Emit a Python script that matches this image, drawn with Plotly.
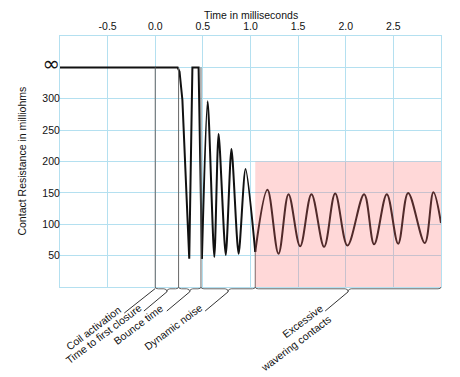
import plotly.graph_objects as go

# ---- data ----
closure_t = [-1.0, 0.235, 0.255, 0.268, 0.285, 0.357, 0.39, 0.455, 0.49]
closure_r = [350, 350, 343, 325, 298, 45, 350, 350, 45]

ring_t = [0.49, 0.55, 0.62, 0.665, 0.74, 0.80, 0.875, 0.948, 1.05]
ring_r = [45, 296, 48, 244, 51, 220, 53, 188, 56]

waver_t = [1.05, 1.178, 1.294, 1.399, 1.521, 1.640, 1.773, 1.889, 2.018,
           2.193, 2.298, 2.431, 2.550, 2.655, 2.830, 2.920, 3.0]
waver_r = [56, 155, 53, 148, 65, 148, 64, 149, 66,
           148, 68, 148, 69, 150, 70, 151, 102]

# phase boundaries (ms) and resistance where marker line meets curve
phase_t = [0.0, 0.245, 0.48, 1.05]
phase_top = [350, 350, 350, 56]
phase_labels = ["Time to first closure", "Bounce time", "Dynamic noise",
                "Excessive<br>wavering contacts"]
start_label = "Coil activation"
noise_limit = 200
t_end = 3.0

x_title = "Time in milliseconds"
y_title = "Contact Resistance in milliohms"
x_ticks = [-0.5, 0.0, 0.5, 1.0, 1.5, 2.0, 2.5]
x_ticktext = ["-0.5", "0.0", "0.5", "1.0", "1.5", "2.0", "2.5"]
y_ticks = [50, 100, 150, 200, 250, 300, 350]
y_ticktext = ["50", "100", "150", "200", "250", "300",
              "<span style='font-family:DejaVu Sans;font-size:21px'>∞</span>"]

# ---- layout geometry (page has an 8px body margin) ----
OFF = 8
W, H = 460 - OFF, 377 - OFF
ML, MR, MT = 60 - OFF, 18.5, 36 - OFF
PW, PH = 381.5, 250.7
MB = H - MT - PH
XR = (-1.0, 3.0)
ux = (XR[1] - XR[0]) / PW   # data units per px (x)
uy = 1.0 / PH               # paper units per px (y)

FONT = "Liberation Sans, Arial, Helvetica, sans-serif"
GRID = "#b4e0f0"
MARK = "#666666"

fig = go.Figure()
fig.add_trace(go.Scatter(x=closure_t, y=closure_r, mode="lines",
                         line=dict(color="#111111", width=2), hoverinfo="skip"))
fig.add_trace(go.Scatter(x=ring_t, y=ring_r, mode="lines",
                         line=dict(color="#111111", width=2, shape="spline", smoothing=0.7),
                         hoverinfo="skip"))
fig.add_trace(go.Scatter(x=waver_t, y=waver_r, mode="lines",
                         line=dict(color="#111111", width=2, shape="spline", smoothing=1),
                         hoverinfo="skip"))

shapes = []
for t, top in zip(phase_t, phase_top):
    shapes.append(dict(type="line", xref="x", yref="y", x0=t, x1=t, y0=0, y1=top,
                       line=dict(color=MARK, width=1), layer="above"))
shapes.append(dict(type="rect", xref="x", yref="y", x0=phase_t[-1], x1=t_end,
                   y0=0, y1=noise_limit, fillcolor="rgba(255,110,110,0.27)",
                   line=dict(width=0), layer="above"))

# brackets
seg_ends = phase_t + [t_end]
yb = -1.8 * uy
yn = -4.8 * uy
c = 3 * ux
for a, b in zip(seg_ends[:-1], seg_ends[1:]):
    m = (a + b) / 2
    p = (f"M {a},0 Q {a},{yb} {a+c},{yb} L {m-c},{yb} Q {m},{yb} {m},{yn} "
         f"Q {m},{yb} {m+c},{yb} L {b-c},{yb} Q {b},{yb} {b},0")
    shapes.append(dict(type="path", xref="x", yref="paper", path=p,
                       line=dict(color=MARK, width=1)))

annotations = []
def label(x0, y0px, dxpx, dypx, text, xs, ys):
    x1 = x0 + dxpx * ux
    y1 = dypx * uy
    shapes.append(dict(type="line", xref="x", yref="paper", x0=x0, y0=y0px * uy,
                       x1=x1, y1=y1, line=dict(color="#333333", width=1)))
    annotations.append(dict(x=x1, y=y1, xref="x", yref="paper", text=text,
                            showarrow=False, textangle=-37, xanchor="right",
                            yanchor="top", align="right", xshift=xs, yshift=ys,
                            font=dict(family=FONT, size=10.5, color="#111")))

label(phase_t[0], -1.5, -31, -26, start_label, 2, 12)
for i, (a, b, lab) in enumerate(zip(seg_ends[:-1], seg_ends[1:], phase_labels)):
    multi = "<br>" in lab
    label((a + b) / 2, -4.8, -23, -24, lab, 11 if multi else 2, 12)

# axis titles
annotations.append(dict(x=0.5, y=1 + 21 * uy, xref="paper", yref="paper",
                        text=x_title, showarrow=False, xanchor="center",
                        yanchor="middle", font=dict(family=FONT, size=10.5, color="#111")))
annotations.append(dict(x=-39 / PW, y=0.5, xref="paper", yref="paper",
                        text=y_title, showarrow=False, textangle=-90,
                        xanchor="center", yanchor="middle",
                        font=dict(family=FONT, size=10.5, color="#111")))

fig.update_layout(
    width=W, height=H, margin=dict(l=ML, r=MR, t=MT, b=MB),
    paper_bgcolor="white", plot_bgcolor="white", showlegend=False,
    font=dict(family=FONT, size=10.5, color="#111"),
    shapes=shapes, annotations=annotations,
    xaxis=dict(range=list(XR), side="top", tickvals=x_ticks, ticktext=x_ticktext,
               showgrid=True, gridcolor=GRID, gridwidth=1, zeroline=False,
               showline=True, mirror=True, linecolor=GRID, ticks="",
               ticklabelstandoff=1, automargin=False),
    yaxis=dict(range=[0, 400], tickvals=y_ticks, ticktext=y_ticktext,
               showgrid=True, gridcolor=GRID, gridwidth=1, zeroline=False,
               showline=True, mirror=True, linecolor=GRID, ticks="",
               ticklabelstandoff=-3, automargin=False),
)
fig.write_html("out.html")
